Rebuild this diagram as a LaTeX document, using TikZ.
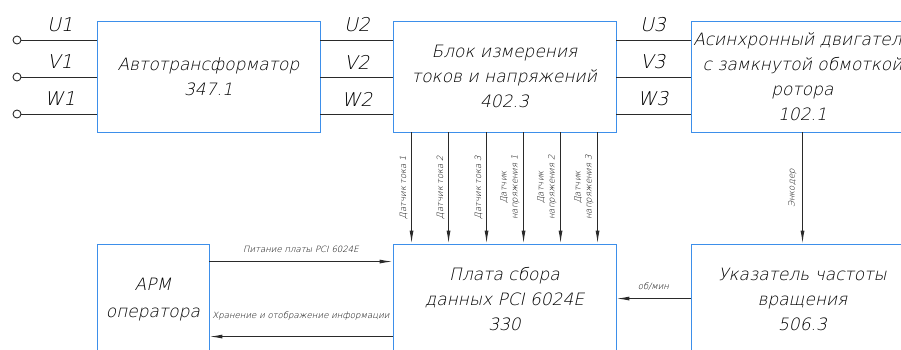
\documentclass[tikz,border=0pt]{standalone}
\usepackage{fontspec}
\newfontfamily\gost{DejaVu Sans ExtraLight}[FakeSlant=0.22]
\usetikzlibrary{arrows.meta}
\definecolor{boxblue}{HTML}{3D8FEA}
\definecolor{wirec}{HTML}{2A2A2A}
\tikzset{
 box/.style={draw=boxblue, line width=0.9pt, rectangle, minimum width=223pt, minimum height=111pt, align=center, inner sep=0pt, font=\gost\fontsize{17}{25}\selectfont, text=black},
 wire/.style={draw=wirec, line width=1pt},
 arr/.style={wire, -{Latex[length=13pt,width=4pt]}},
 term/.style={circle, draw=wirec, line width=0.9pt, minimum size=8pt, inner sep=0pt},
 phase/.style={font=\gost\fontsize{19}{20}\selectfont, inner sep=0pt, text=black},
 tiny/.style={font=\gost\fontsize{8.6}{11}\selectfont, inner sep=0pt, align=center, text=black},
 vlabel/.style={tiny, rotate=90, anchor=south},
}
\begin{document}
\begin{tikzpicture}[x=1pt,y=-1pt]
\clip (0,0) rectangle (901,349);
% boxes
\node[box] (avt) at (208.5,76.5) {Автотрансформатор\\347.1};
\node[box] (block) at (504.5,76.5) {Блок измерения\\токов и напряжений\\402.3};
\node[box] (motor) at (802.5,76.5) {Асинхронный двигатель\\с замкнутой обмоткой\\ротора\\102.1};
\node[box, minimum width=112pt, font=\gost\fontsize{17}{27}\selectfont] (apm) at (153,299.5) {АРМ\\оператора};
\node[box] (plata) at (504.5,299.5) {Плата сбора\\данных PCI 6024E\\330};
\node[box] (ukaz) at (802.5,299.5) {Указатель частоты\\вращения\\506.3};
% input terminals
\node[term] (i1) at (17,40) {};
\node[term] (i2) at (17,77) {};
\node[term] (i3) at (17,114) {};
\foreach \t in {i1,i2,i3}{
  \draw[wire] (\t) -- (\t -| avt.west);
  \draw[wire] (\t -| avt.east) -- (\t -| block.west);
  \draw[wire] (\t -| block.east) -- (\t -| motor.west);
}
% phase labels
\node[phase] (lu1) at (60,25) {U1};
\node[phase] (lv1) at (60,62) {V1};
\node[phase] (lw1) at (60,99) {W1};
\node[phase] (lu2) at (357,25) {U2};
\node[phase] (lv2) at (357,62) {V2};
\node[phase] (lw2) at (357,99) {W2};
\node[phase] (lu3) at (653,25) {U3};
\node[phase] (lv3) at (653,62) {V3};
\node[phase] (lw3) at (653,99) {W3};
% sensor arrows
\foreach \dx/\txt [count=\k] in {19/{Датчик тока 1},56/{Датчик тока 2},94/{Датчик тока 3},131/{Датчик\\напряжения 1},168/{Датчик\\напряжения 2},205/{Датчик\\напряжения 3}}{
  \draw[arr] ([xshift=\dx pt]block.south west) -- ([xshift=\dx pt]plata.north west);
  \node[vlabel] (s\k) at ([xshift=\dx pt - 4pt, yshift=-55pt]block.south west) {\txt};
}
% encoder
\draw[arr] (motor.south) -- (ukaz.north);
\node[vlabel] (enc) at ([xshift=-6pt, yshift=-56pt]motor.south) {Энкодер};
% rpm
\draw[arr] ([yshift=-55pt]ukaz.north west) -- ([yshift=-55pt]plata.north east) coordinate[pos=0.5] (rpmmid);
\node[tiny, anchor=south] (rpm) at ([yshift=8pt]rpmmid) {об/мин};
% power
\draw[arr] ([yshift=-18pt]apm.north east) -- ([yshift=-18pt]plata.north west) coordinate[pos=0.5] (pwrmid);
\node[tiny, anchor=south] (pwr) at ([yshift=9pt]pwrmid) {Питание платы PCI 6024E};
% storage
\draw[arr] ([yshift=-93pt]plata.north west) -- ([yshift=-93pt]apm.north east) coordinate[pos=0.5] (stmid);
\node[tiny, anchor=south] (st) at ([yshift=16pt]stmid) {Хранение и отображение информации};
\end{tikzpicture}
\end{document}
